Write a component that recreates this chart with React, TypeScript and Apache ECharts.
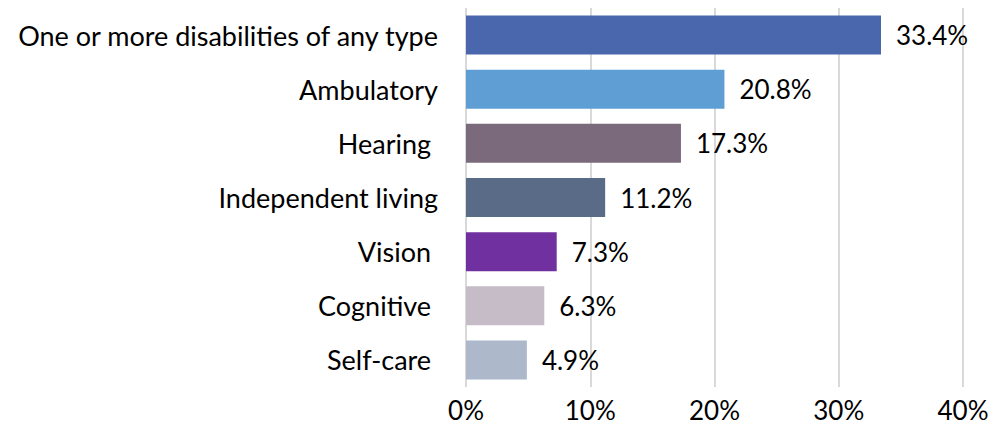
import React, { useEffect, useRef } from "react";
import * as echarts from "echarts";

const categories = [
  "One or more disabilities of any type",
  "Ambulatory",
  "Hearing ",
  "Independent living",
  "Vision ",
  "Cognitive ",
  "Self-care ",
];
const values = [33.4, 20.8, 17.3, 11.2, 7.3, 6.3, 4.9];
const colors = ["#4A66AC", "#5F9ED5", "#7A6A7C", "#596B86", "#7030A0", "#C6BCC8", "#ADB9CB"];
const xTicks = [0, 10, 20, 30, 40];

const FONT = "Lato";

export default function App() {
  const ref = useRef<HTMLDivElement>(null);
  useEffect(() => {
    if (!ref.current) return;
    const chart = echarts.init(ref.current, undefined, { renderer: "svg" });
    chart.setOption({
      animation: false,
      backgroundColor: "#ffffff",
      grid: { left: 466, right: 38, top: 8, bottom: 49, containLabel: false },
      xAxis: {
        type: "value",
        min: xTicks[0],
        max: xTicks[xTicks.length - 1],
        interval: 10,
        axisLine: { show: false },
        axisTick: { show: false },
        splitLine: { show: true, lineStyle: { color: "#D9D9D9", width: 2 } },
        axisLabel: {
          formatter: (v: number) => `${v}%`,
          fontFamily: FONT,
          fontSize: 26,
          color: "#000",
          margin: 10,
        },
      },
      yAxis: {
        type: "category",
        data: categories,
        inverse: true,
        axisLine: { show: false },
        axisTick: { show: false },
        axisLabel: {
          fontFamily: FONT,
          fontSize: 27,
          color: "#000",
          margin: 28,
        },
      },
      series: [
        {
          type: "bar",
          data: values.map((v, i) => ({ value: v, itemStyle: { color: colors[i] } })),
          barCategoryGap: "28%",
          label: {
            show: true,
            position: "right",
            distance: 15,
            formatter: (p: any) => `${p.value.toFixed(1)}%`,
            fontFamily: FONT,
            fontSize: 26,
            color: "#000",
          },
        },
      ],
    });
    return () => chart.dispose();
  }, []);
  return <div ref={ref} style={{ width: 1001, height: 436, margin: -8 }} />;
}
